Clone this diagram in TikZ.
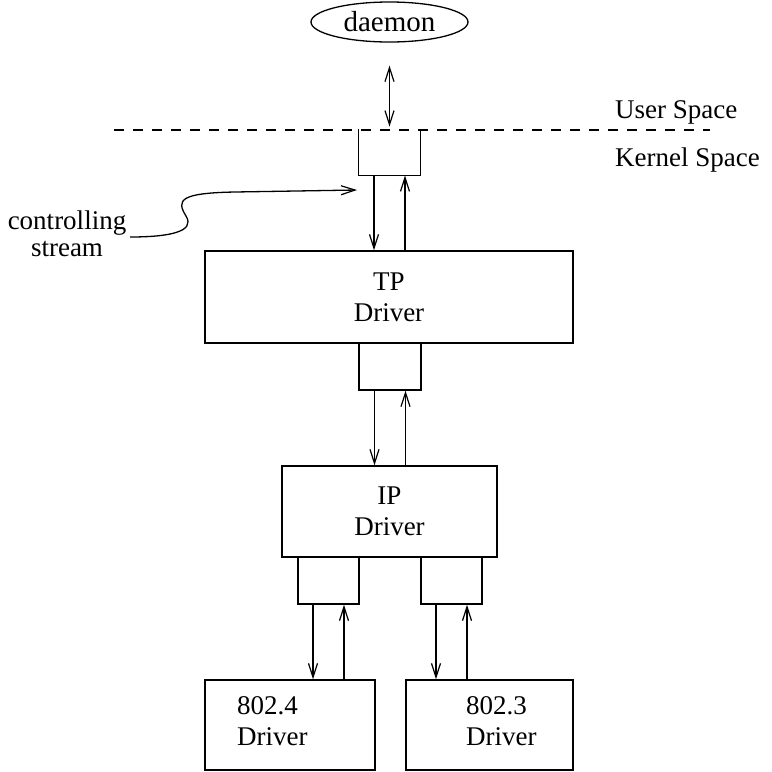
\documentclass[tikz,border=0pt]{standalone}
\usepackage{fontspec}
\setmainfont{Liberation Serif}
\usetikzlibrary{arrows.meta,shapes.geometric}
\begin{document}
\begin{tikzpicture}[x=1pt,y=-1pt,
  every node/.style={font=\fontsize{27}{31}\selectfont},
  box/.style={draw,line width=1.4pt,inner sep=0pt,align=center},
  smallbox/.style={inner sep=0pt,minimum width=61.5pt,minimum height=46.5pt},
  arr/.style={line width=1.3pt,-{Straight Barb[length=14pt,width=9pt,line width=1.2pt]}},
  darr/.style={line width=1.3pt,{Straight Barb[length=14pt,width=9pt,line width=1.2pt]}-{Straight Barb[length=14pt,width=9pt,line width=1.2pt]}},
  lbl/.style={inner sep=0pt,anchor=west}
]
\useasboundingbox (0,0) rectangle (772,772);

% daemon
\node[draw,ellipse,line width=1.3pt,inner sep=0pt,minimum width=157pt,minimum height=40pt,font=\fontsize{29}{31}\selectfont] (daemon) at (389.5,22) {daemon};

% dashed separator
\coordinate (dl) at (114,130);
\coordinate (dr) at (710,130);
\draw[line width=1.3pt,dash pattern=on 10pt off 9pt] (dl) -- (dr);
\node[lbl] (user) at (615,112) {User Space};
\node[lbl] (kern) at (615,160) {Kernel Space};

% top stream head box (open at top)
\node[smallbox] (s0) at (389.5,152) {};
\draw[line width=1.4pt] (s0.north west) -- (s0.south west) -- (s0.south east) -- (s0.north east);
\draw[darr] ([yshift=-23pt]daemon.south) -- ([yshift=2pt]s0.north);

% TP driver
\node[box,minimum width=368pt,minimum height=92pt] (tp) at (389,297) {TP\\Driver};
\draw[arr] ([xshift=-15.5pt]s0.south) -- ([xshift=-15.5pt]s0.south |- tp.north);
\draw[arr] ([xshift=15.5pt]s0.south |- tp.north) -- ([xshift=15.5pt]s0.south);

% controlling stream
\node[inner sep=0pt,align=center,font=\fontsize{27}{27}\selectfont] (ctl) at (67,234) {controlling\\stream};
\coordinate (ctlend) at (130,237);
\coordinate (ctltip) at (357,190);
\draw[arr] (ctlend) .. controls (168,237) and (196,232) .. (186,216)
  .. controls (176,200) and (180,193) .. (235,192) -- (ctltip);

% stream box between TP and IP
\node[box,minimum width=62pt,minimum height=47pt] (s1) at (390,366.5) {};

% IP driver
\node[box,minimum width=215pt,minimum height=91pt] (ip) at (389.5,511.5) {IP\\Driver};
\draw[arr] ([xshift=-15.5pt]s1.south) -- ([xshift=-15.5pt]s1.south |- ip.north);
\draw[arr] ([xshift=15.5pt]s1.south |- ip.north) -- ([xshift=15.5pt]s1.south);

% lower stream boxes
\node[box,minimum width=61pt,minimum height=47pt] (s2) at (328.5,580.5) {};
\node[box,minimum width=61pt,minimum height=47pt] (s3) at (451.5,580.5) {};

% 802 drivers
\node[box,minimum width=170pt,minimum height=90pt] (d4) at (290,725) {};
\node[box,minimum width=167pt,minimum height=90pt] (d3) at (489.5,725) {};
\node[inner sep=0pt,anchor=west,align=left] (t4) at (237,721) {802.4\\Driver};
\node[inner sep=0pt,anchor=west,align=left] (t3) at (466,721) {802.3\\Driver};

\draw[arr] ([xshift=-15.5pt]s2.south) -- ([xshift=-15.5pt]s2.south |- d4.north);
\draw[arr] ([xshift=15.5pt]s2.south |- d4.north) -- ([xshift=15.5pt]s2.south);
\draw[arr] ([xshift=-15.5pt]s3.south) -- ([xshift=-15.5pt]s3.south |- d3.north);
\draw[arr] ([xshift=15.5pt]s3.south |- d3.north) -- ([xshift=15.5pt]s3.south);
\end{tikzpicture}
\end{document}
